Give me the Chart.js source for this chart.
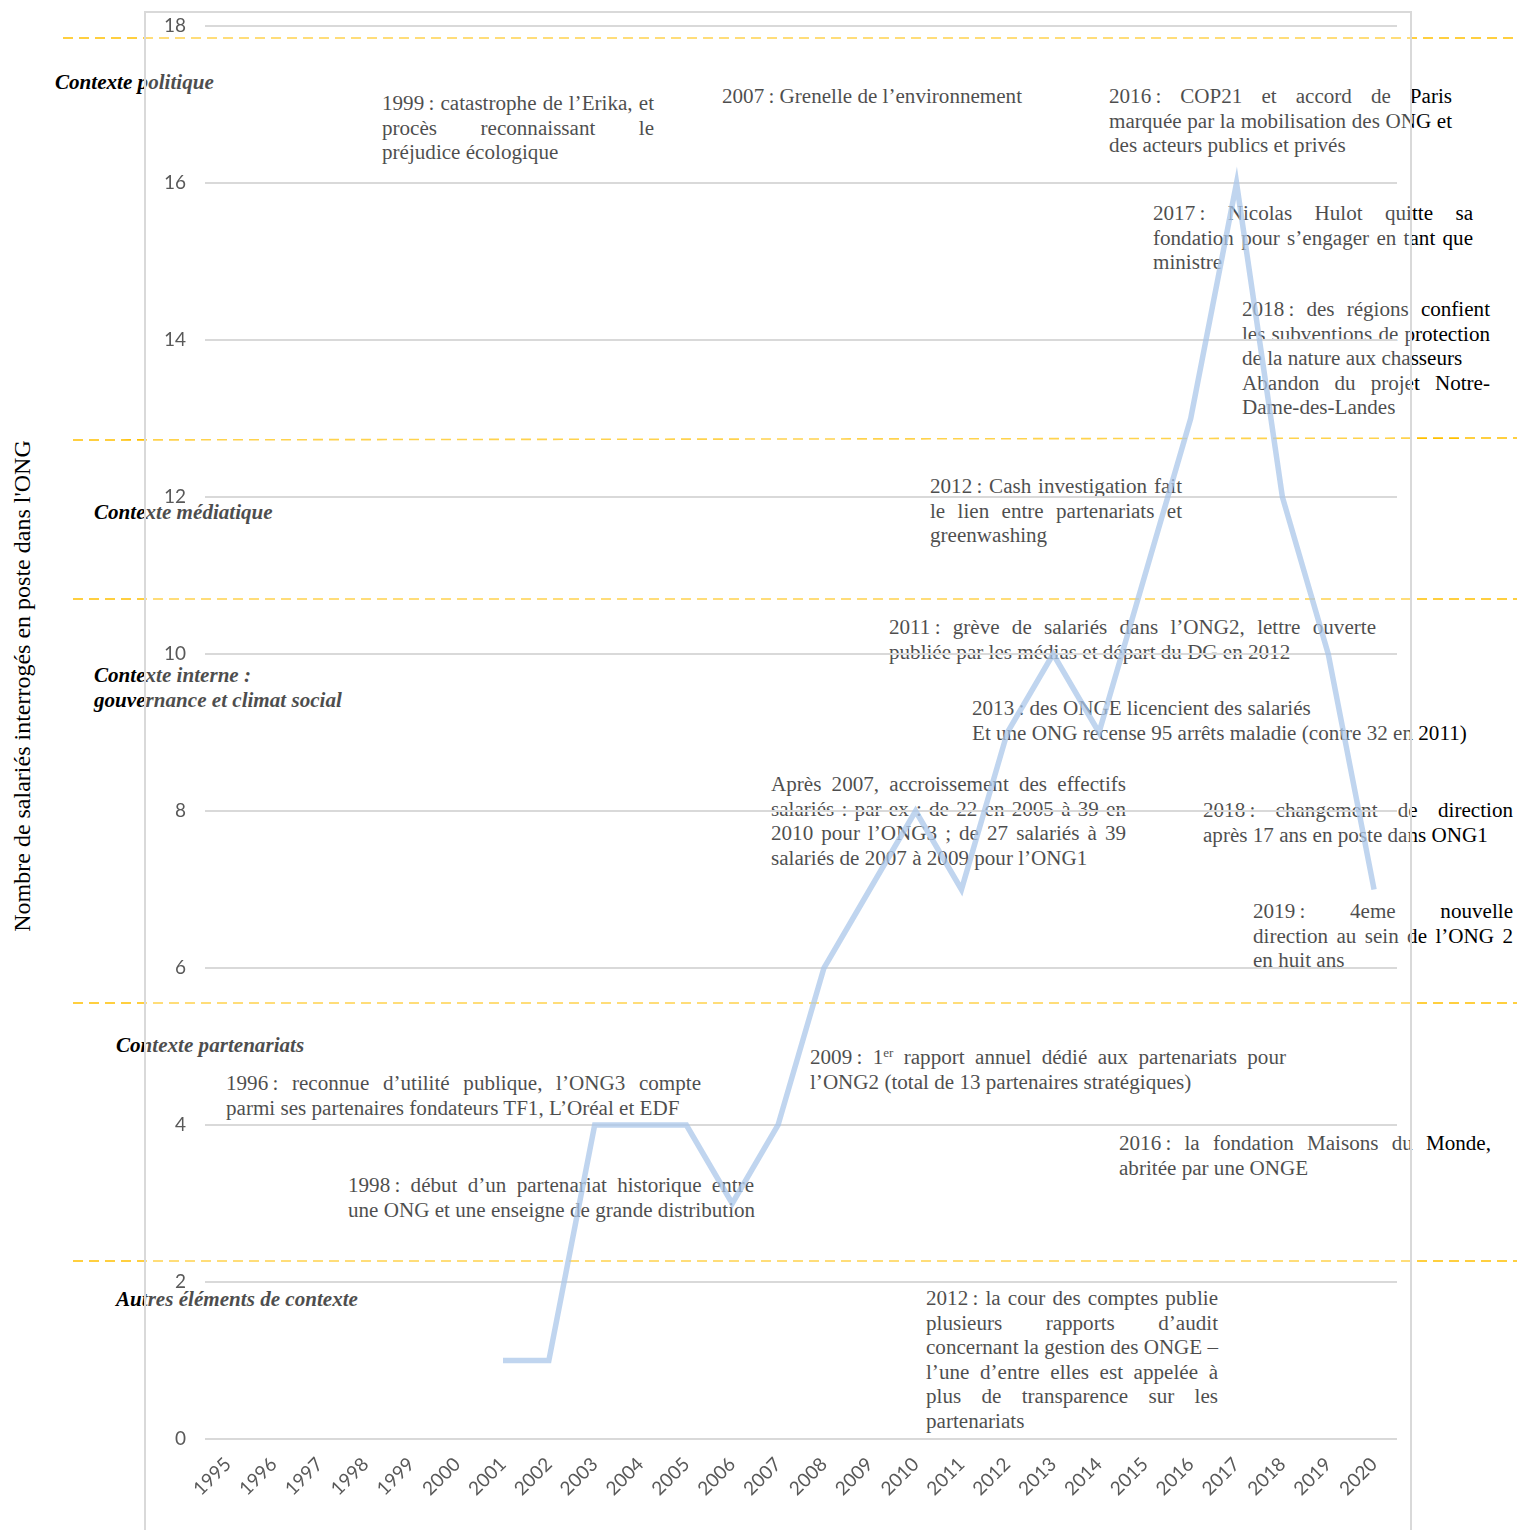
<!DOCTYPE html>
<html lang="fr">
<head>
<meta charset="utf-8">
<title>Salariés interrogés en poste dans l'ONG</title>
<script src="https://cdn.jsdelivr.net/npm/chart.js@4.4.1/dist/chart.umd.min.js"></script>
<style>
	body { margin: 0; background: #fff; }
	#page { position: relative; width: 1517px; height: 1530px; overflow: hidden; }
	#dashes { position: absolute; left: 0; top: 0; z-index: 0; }
	.note { position: absolute; z-index: 1; font-family: "Liberation Serif", "Times New Roman", serif; font-size: 21.1px; line-height: 24.6px; color: #000; }
	.note div { white-space: nowrap; }
	.note div.j { text-align: justify; text-align-last: justify; white-space: normal; word-spacing: -4px; }
	.note .yr { display: inline-block; white-space: nowrap; word-spacing: 0; }
	.note sup { font-size: 13px; line-height: 0; vertical-align: 7px; }
	.section { font-weight: bold; font-style: italic; }
	#ytitle { position: absolute; left: 22px; top: 686px; z-index: 1; transform: translate(-50%, -50%) rotate(-90deg); white-space: nowrap;
		font-family: "Liberation Serif", "Times New Roman", serif; font-size: 24px; color: #000; }
	#chart { position: absolute; left: 0; top: 0; z-index: 2; }
</style>
</head>
<body>
<div id="page">
	<svg id="dashes" width="1517" height="1530">
		<g stroke="#ffc000" stroke-width="1.6" stroke-dasharray="10 6" fill="none">
			<line x1="63" y1="38" x2="1517" y2="38"/>
			<line x1="73" y1="440" x2="1517" y2="438"/>
			<line x1="73" y1="599" x2="1517" y2="599"/>
			<line x1="73" y1="1003" x2="1517" y2="1003"/>
			<line x1="73" y1="1261" x2="1517" y2="1261"/>
		</g>
	</svg>
	<div id="notes"></div>
	<div id="ytitle">Nombre de salariés interrogés en poste dans l'ONG</div>
	<canvas id="chart" width="1517" height="1530"></canvas>
</div>
<script>
// Data
var years = ["1995", "1996", "1997", "1998", "1999", "2000", "2001", "2002", "2003", "2004", "2005", "2006", "2007",
	"2008", "2009", "2010", "2011", "2012", "2013", "2014", "2015", "2016", "2017", "2018", "2019", "2020"];
var salaries = [null, null, null, null, null, null, 1, 1, 4, 4, 4, 3, 4, 6, 7, 8, 7, 9, 10, 9, 11, 13, 16, 12, 10, 7];
var yMin = 0, yMax = 18, yStep = 2;

// Section titles (left column)
var sections = [
	["Contexte politique"],
	["Contexte médiatique"],
	["Contexte interne :", "gouvernance et climat social"],
	["Contexte partenariats"],
	["Autres éléments de contexte"]
];

// Annotations: paragraphs of lines, every line but the last of a paragraph is justified
var events = [
	[["1999 : catastrophe de l’Erika, et", "procès reconnaissant le", "préjudice écologique"]],
	[["2007 : Grenelle de l’environnement"]],
	[["2016 : COP21 et accord de Paris", "marquée par la mobilisation des ONG et", "des acteurs publics et privés"]],
	[["2017 : Nicolas Hulot quitte sa", "fondation pour s’engager en tant que", "ministre"]],
	[["2018 : des régions confient", "les subventions de protection", "de la nature aux chasseurs"], ["Abandon du projet Notre-", "Dame-des-Landes"]],
	[["2012 : Cash investigation fait", "le lien entre partenariats et", "greenwashing"]],
	[["2011 : grève de salariés dans l’ONG2, lettre ouverte", "publiée par les médias et départ du DG en 2012"]],
	[["2013 : des ONGE licencient des salariés"], ["Et une ONG recense 95 arrêts maladie (contre 32 en 2011)"]],
	[["Après 2007, accroissement des effectifs", "salariés : par ex : de 22 en 2005 à 39 en", "2010 pour l’ONG3 ; de 27 salariés à 39", "salariés de 2007 à 2009 pour l’ONG1"]],
	[["2018 : changement de direction", "après 17 ans en poste dans ONG1"]],
	[["2019 : 4eme nouvelle", "direction au sein de l’ONG 2", "en huit ans"]],
	[["2009 : 1<sup>er</sup> rapport annuel dédié aux partenariats pour", "l’ONG2 (total de 13 partenaires stratégiques)"]],
	[["1996 : reconnue d’utilité publique, l’ONG3 compte", "parmi ses partenaires fondateurs TF1, L’Oréal et EDF"]],
	[["2016 : la fondation Maisons du Monde,", "abritée par une ONGE"]],
	[["1998 : début d’un partenariat historique entre", "une ONG et une enseigne de grande distribution"]],
	[["2012 : la cour des comptes publie", "plusieurs rapports d’audit", "concernant la gestion des ONGE –", "l’une d’entre elles est appelée à", "plus de transparence sur les", "partenariats"]]
];

// Layout of the text blocks (left, top, width)
var sectionPos = [[55, 70], [94, 500], [94, 663], [116, 1033], [116, 1287]];
var eventPos = [
	[382, 91, 272], [722, 84, 0], [1109, 84, 343], [1153, 201, 320], [1242, 297, 248],
	[930, 474, 252], [889, 615, 487], [972, 696, 0], [771, 772, 355], [1203, 798, 310],
	[1253, 899, 260], [810, 1045, 476], [226, 1071, 475], [1119, 1131, 372], [348, 1173, 406],
	[926, 1286, 292]
];

function block(paras, pos, cls) {
	var el = document.createElement('div');
	el.className = 'note' + (cls ? ' ' + cls : '');
	el.style.left = pos[0] + 'px';
	el.style.top = pos[1] + 'px';
	if (pos[2]) el.style.width = pos[2] + 'px';
	paras.forEach(function (lines) {
		lines.forEach(function (txt, i) {
			var d = document.createElement('div');
			if (pos[2] && i < lines.length - 1) d.className = 'j';
			// keep "2016 :" together, with a narrow gap before the colon
			d.innerHTML = txt.replace(/^(\d{4}) :/, '<span class="yr">$1\u202f:</span>');
			el.appendChild(d);
		});
	});
	document.getElementById('notes').appendChild(el);
}

sections.forEach(function (s, i) { block([s], sectionPos[i], 'section'); });
events.forEach(function (e, i) { block(e, eventPos[i]); });

// Chart box: light veil + border, drawn under the grid and line
var chartBox = {
	id: 'chartBox',
	beforeDraw: function (chart) {
		var ctx = chart.ctx;
		ctx.save();
		ctx.fillStyle = 'rgba(255,255,255,0.3)';
		ctx.fillRect(145, 12, 1266, 1530);
		ctx.strokeStyle = '#d9d9d9';
		ctx.lineWidth = 2;
		ctx.strokeRect(145, 12, 1266, 1530);
		ctx.restore();
	}
};

var tickFont = { family: 'Lato', size: 19 };

var ctx = document.getElementById('chart').getContext('2d');
new Chart(ctx, {
	type: 'line',
	data: {
		labels: years,
		datasets: [{
			label: 'Salariés',
			data: salaries,
			borderColor: 'rgba(170,199,234,0.74)',
			borderWidth: 5.5,
			pointRadius: 0,
			tension: 0,
			fill: false
		}]
	},
	options: {
		responsive: false,
		animation: false,
		layout: { padding: { top: 26, right: 120, bottom: 0, left: 0 } },
		plugins: {
			legend: { display: false },
			tooltip: { enabled: false }
		},
		scales: {
			x: {
				offset: true,
				grid: { display: false },
				border: { display: false },
				ticks: { color: '#595959', font: tickFont, maxRotation: 45, minRotation: 45, padding: 6, autoSkip: false },
				afterFit: function (scale) {
					scale.height = 91;
					scale.paddingTop = 0;
				}
			},
			y: {
				min: yMin,
				max: yMax,
				grid: { color: '#d9d9d9', lineWidth: 2, drawTicks: false },
				border: { display: false },
				ticks: { stepSize: yStep, color: '#595959', font: tickFont, padding: 19 },
				afterFit: function (scale) {
					scale.width = 205;
					scale.paddingTop = 0;
					scale.paddingBottom = 0;
				}
			}
		}
	},
	plugins: [chartBox]
});
</script>
</body>
</html>
